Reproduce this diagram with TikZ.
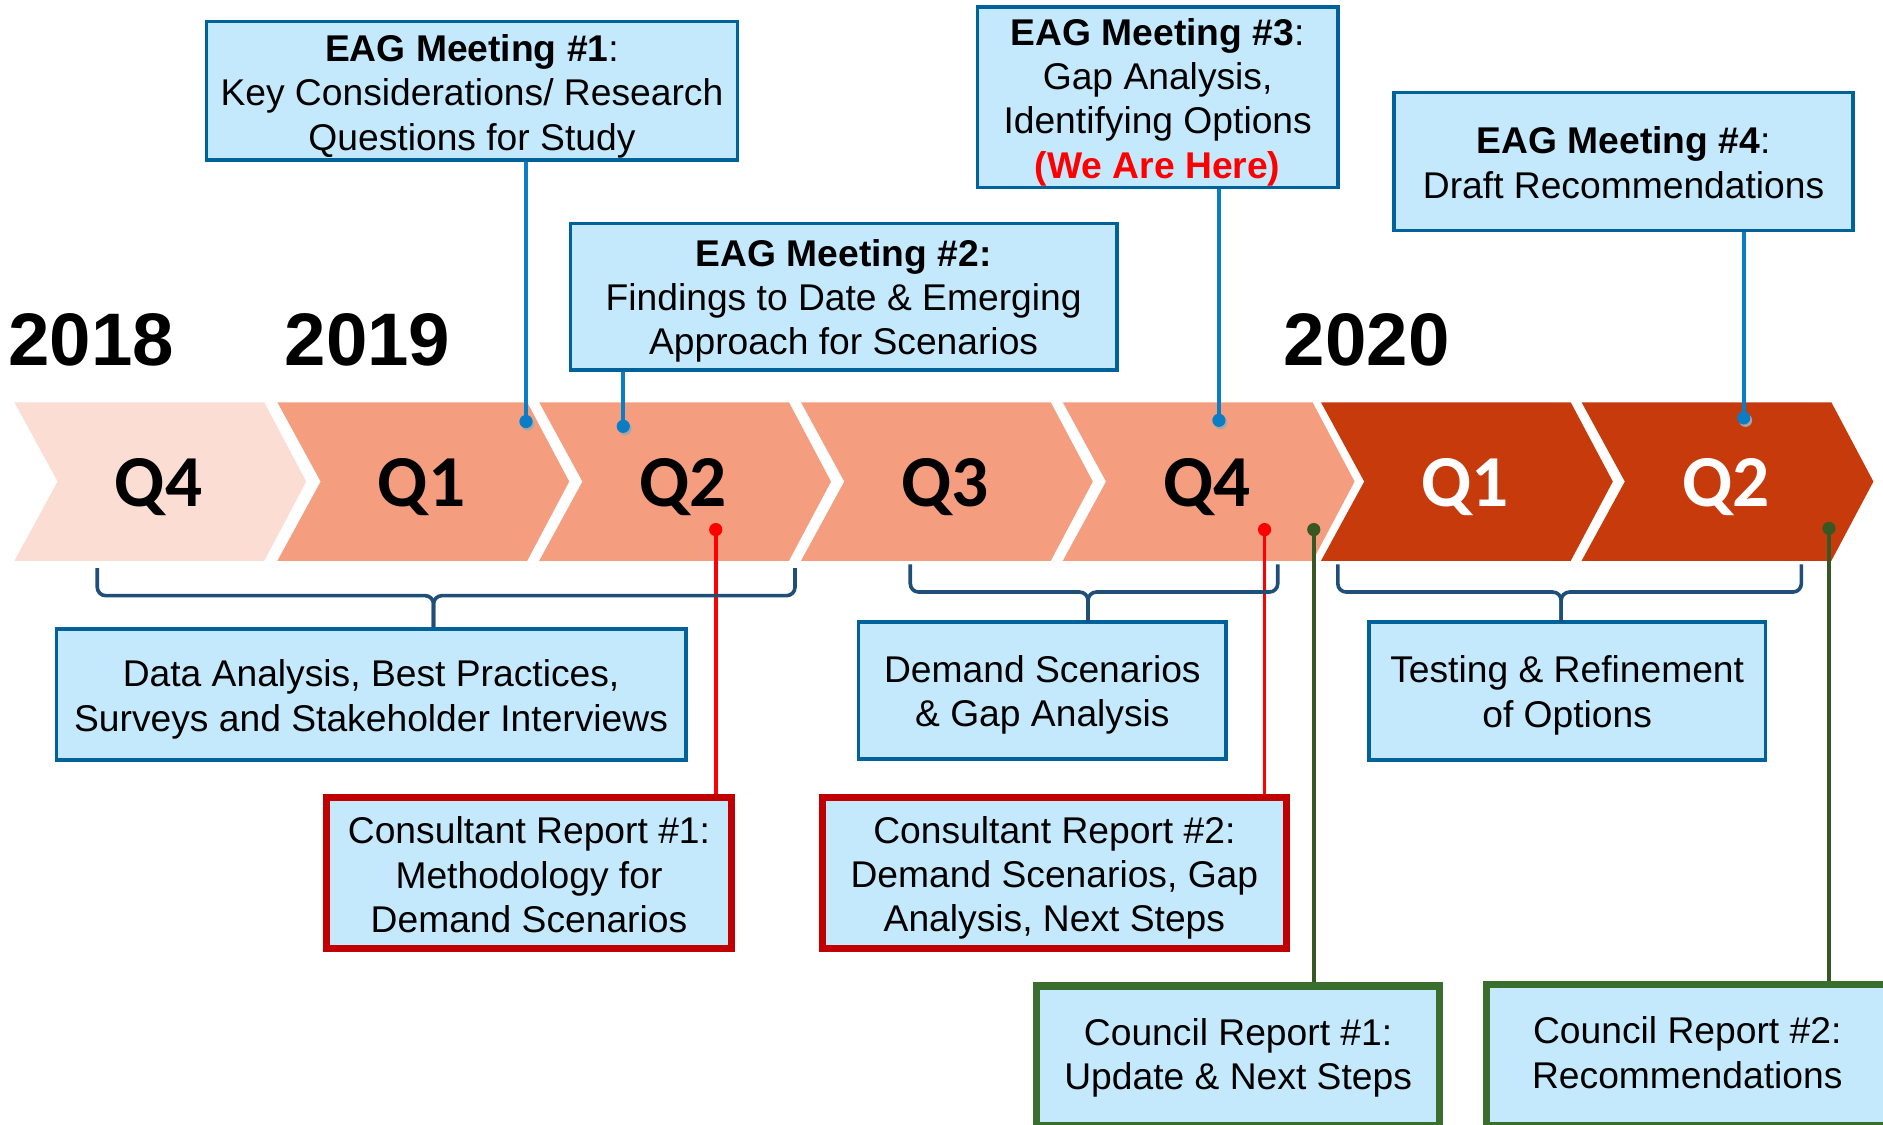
\documentclass[tikz,border=0pt]{standalone}
\usepackage{fontspec}
\usetikzlibrary{calc}
\setmainfont{Liberation Sans}
\newfontfamily\calfont{Carlito}
\definecolor{lpink}{HTML}{FCDDD4}
\definecolor{salmon}{HTML}{F59D7F}
\definecolor{dred}{HTML}{C63A0C}
\definecolor{boxfill}{HTML}{C4E9FD}
\definecolor{boxblue}{HTML}{00629A}
\definecolor{connblue}{HTML}{0B7DC5}
\definecolor{bracecol}{HTML}{1F4E79}
\definecolor{redborder}{HTML}{C00000}
\definecolor{redconn}{HTML}{FF0000}
\definecolor{greenborder}{HTML}{3A6E2E}
\definecolor{greenconn}{HTML}{385723}
\begin{document}
\begin{tikzpicture}[x=1pt,y=-1pt,
  qlab/.style={font=\calfont\bfseries\fontsize{61}{61}\selectfont, anchor=base, inner sep=0},
  yearlab/.style={font=\bfseries\fontsize{62}{62}\selectfont, anchor=base, inner sep=0},
  bluebox/.style={draw=boxblue, line width=3, fill=boxfill, inner sep=0},
  redbox/.style={bluebox, draw=redborder, line width=6},
  greenbox/.style={bluebox, draw=greenborder, line width=6},
  boxtext/.style={align=center, inner sep=0, font=\fontsize{31}{37}\selectfont},
  bluecon/.style={draw=connblue, line width=3},
  redcon/.style={draw=redconn, line width=3},
  greencon/.style={draw=greenconn, line width=3},
  bracestyle/.style={draw=bracecol, line width=3, rounded corners=7}
]
\useasboundingbox (0,0) rectangle (1568,936);
\clip (0,0) rectangle (1568,936);

% chevrons
\foreach \xx/\col/\lab/\tc [count=\i] in {12/lpink/Q4/black, 231/salmon/Q1/black, 449/salmon/Q2/black, 667/salmon/Q3/black, 885/salmon/Q4/black, 1100/dred/Q1/white, 1317/dred/Q2/white}{
  \fill[\col] (\xx,335) -- ++(208,0) -- ++(35,66) -- ++(-35,66) -- ++(-208,0) -- ++(36,-66) -- cycle;
  \node[qlab, text=\tc] (q\i) at (\xx+120,422) {\lab};
}

% years
\node[yearlab] (y2018) at (76,304) {2018};
\node[yearlab] (y2019) at (306,304) {2019};
\node[yearlab] (y2020) at (1138,304) {2020};

% top boxes
\node[bluebox, minimum width=442, minimum height=115] (eag1) at (393,75.5) {};
\node[boxtext] (eag1t) at ($(eag1.center)+(0,4.5)$)
  {\textbf{EAG Meeting \#1}:\\Key Considerations/ Research\\Questions for Study};
\node[bluebox, minimum width=455, minimum height=122] (eag2) at (702.5,247) {};
\node[boxtext] (eag2t) at ($(eag2.center)+(0,3.5)$)
  {\textbf{EAG Meeting \#2:}\\Findings to Date \& Emerging\\Approach for Scenarios};
\node[bluebox, minimum width=300, minimum height=150] (eag3) at (964,81) {};
\node[boxtext] (eag3t) at ($(eag3.center)+(0,4)$)
  {\textbf{EAG Meeting \#3}:\\Gap Analysis,\\Identifying Options\\\textcolor{redconn}{\textbf{(We Are Here)}}};
\node[bluebox, minimum width=382, minimum height=115] (eag4) at (1352,134.5) {};
\node[boxtext] (eag4t) at ($(eag4.center)+(0,1)$)
  {\textbf{EAG Meeting \#4}:\\Draft Recommendations};

% bottom blue boxes
\node[bluebox, minimum width=524, minimum height=109] (boxa) at (309,578.5) {};
\node[boxtext] (boxat) at ($(boxa.center)+(0,4)$)
  {Data Analysis, Best Practices,\\Surveys and Stakeholder Interviews};
\node[bluebox, minimum width=306, minimum height=114] (boxb) at (868,575) {};
\node[boxtext] (boxbt) at ($(boxb.center)+(0,3.5)$)
  {Demand Scenarios\\\& Gap Analysis};
\node[bluebox, minimum width=330, minimum height=115] (boxc) at (1305,575.5) {};
\node[boxtext] (boxct) at ($(boxc.center)+(0,3.5)$)
  {Testing \& Refinement\\of Options};

% red boxes
\node[redbox, minimum width=337, minimum height=126] (rep1) at (440.5,727) {};
\node[boxtext] (rep1t) at ($(rep1.center)+(0,1.5)$)
  {Consultant Report \#1:\\Methodology for\\Demand Scenarios};
\node[redbox, minimum width=386, minimum height=126] (rep2) at (878,727) {};
\node[boxtext] (rep2t) at ($(rep2.center)+(0,4)$)
  {Consultant Report \#2:\\Demand Scenarios, Gap\\Analysis, Next Steps};

% green boxes
\node[greenbox, minimum width=336, minimum height=116] (cr1) at (1031,879) {};
\node[boxtext] (cr1t) at ($(cr1.center)+(0,2)$)
  {Council Report \#1:\\Update \& Next Steps};
\node[greenbox, minimum width=334, minimum height=117] (cr2) at (1405,878.5) {};
\node[boxtext] (cr2t) at ($(cr2.center)+(0,-2)$)
  {Council Report \#2:\\Recommendations};

% dots coordinates
\coordinate (d1) at (438,351);
\coordinate (d2) at (519,355);
\coordinate (d3) at (1015,350);
\coordinate (d4) at (1452,348);
\coordinate (r1) at (596,441);
\coordinate (r2) at (1053,441);
\coordinate (g1) at (1094,441);
\coordinate (g2) at (1523,440);

% connectors
\draw[bluecon] (eag1.south -| d1) -- (d1);
\draw[bluecon] (eag2.south -| d2) -- (d2);
\draw[bluecon] (eag3.south -| d3) -- (d3);
\draw[bluecon] (eag4.south -| d4) -- (d4);
\draw[redcon] (r1) -- (rep1.north -| r1);
\draw[redcon] (r2) -- (rep2.north -| r2);
\draw[greencon] (g1) -- (cr1.north -| g1);
\draw[greencon] (g2) -- (cr2.north -| g2);
\foreach \d in {d1,d2,d3,d4}{ \fill[black!35] ($(\d)+(1.5,2)$) circle (5.5); \fill[connblue] (\d) circle (5.5); }
\fill[redconn] (r1) circle (5.5);
\fill[redconn] (r2) circle (5.5);
\fill[greenconn] (g1) circle (5.5);
\fill[greenconn] (g2) circle (5.5);

% braces
\coordinate (b1t) at (361,522);
\draw[bracestyle] (81,473) -- (81,496) -- (361,496) -- (b1t);
\draw[bracestyle] (662,473) -- (662,496) -- (361,496) -- (b1t);
\coordinate (b2t) at (906,518);
\draw[bracestyle] (758,470) -- (758,493) -- (906,493) -- (b2t);
\draw[bracestyle] (1064,470) -- (1064,493) -- (906,493) -- (b2t);
\coordinate (b3t) at (1300,518);
\draw[bracestyle] (1114,470) -- (1114,493) -- (1300,493) -- (b3t);
\draw[bracestyle] (1500,470) -- (1500,493) -- (1300,493) -- (b3t);
\end{tikzpicture}
\end{document}
